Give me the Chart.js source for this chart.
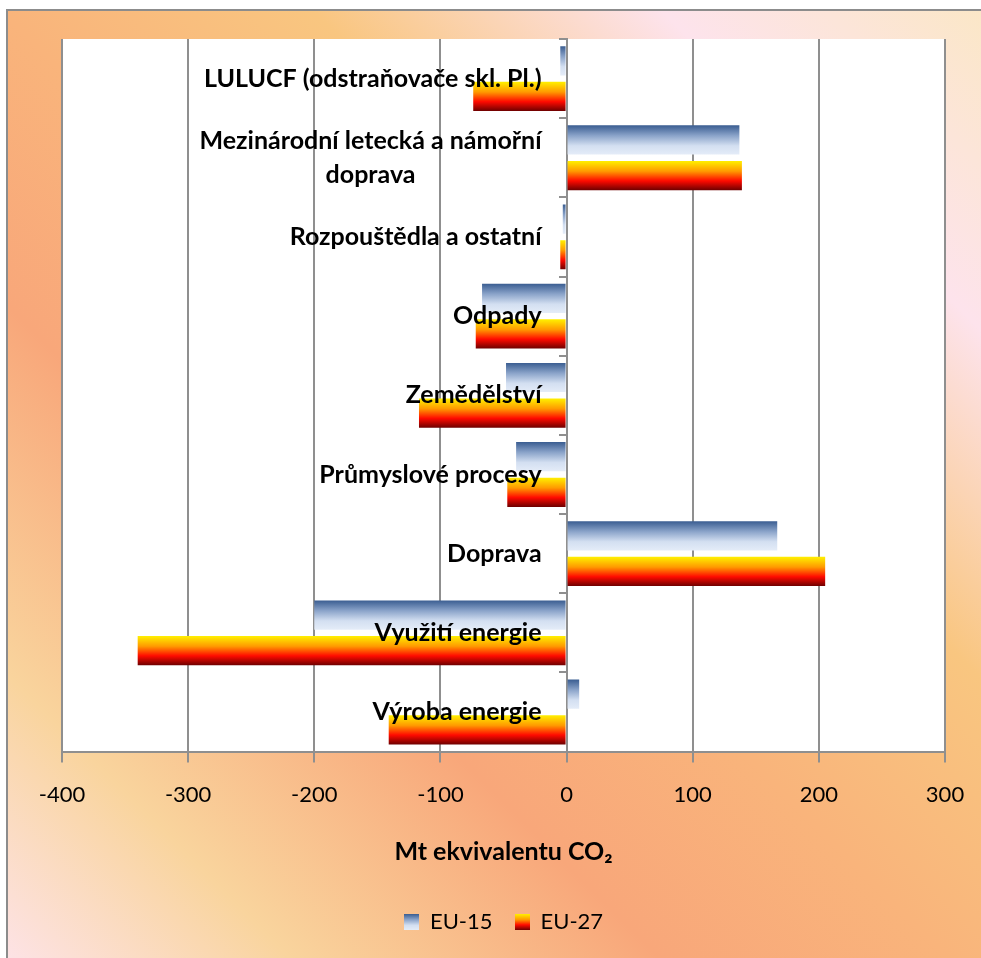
<!DOCTYPE html>
<html>
<head>
<meta charset="utf-8">
<script src="https://cdn.jsdelivr.net/npm/chart.js@4/dist/chart.umd.min.js"></script>
<style>
  html, body { margin: 0; padding: 0; background: #ffffff; overflow: hidden; }
  #wrap { position: absolute; left: 0; top: 0; width: 981px; height: 958px; }
</style>
</head>
<body>
<div id="wrap"><canvas id="chart"></canvas></div>
<script>
// Greenhouse gas emission changes by sector (Mt CO2 equivalent)
const categories = [
  'LULUCF (odstraňovače skl. Pl.)',
  ['Mezinárodní letecká a námořní', 'doprava'],
  'Rozpouštědla a ostatní',
  'Odpady',
  'Zemědělství',
  'Průmyslové procesy',
  'Doprava',
  'Využití energie',
  'Výroba energie'
];
const seriesNames = ['EU-15', 'EU-27'];
const eu15 = [-5, 137, -3, -67, -48, -40, 167, -200, 10];
const eu27 = [-74, 139, -5, -72, -117, -47, 205, -340, -141];
const xTicks = [-400, -300, -200, -100, 0, 100, 200, 300];
const axisTitle = 'Mt ekvivalentu CO₂';

const FONT = "Lato, 'Open Sans', sans-serif";
const GRID = '#8f8f8f';

// vertical gradient stops for each series
const stops = [
  [[0, '#3a5d91'], [0.35, '#8aa3c9'], [0.7, '#d3dff1'], [1, '#e4ecf8']],
  [[0, '#fff000'], [0.35, '#ff9a00'], [0.68, '#ff0a00'], [1, '#6e0000']]
];

function fillGradient(ctx, top, bottom, s) {
  const g = ctx.createLinearGradient(0, top, 0, bottom);
  s.forEach(([o, c]) => g.addColorStop(o, c));
  return g;
}

// small swatches used as legend markers
function swatch(s) {
  const c = document.createElement('canvas');
  c.width = 15; c.height = 16;
  const x = c.getContext('2d');
  x.fillStyle = fillGradient(x, 0, 16, s);
  x.fillRect(0, 0, 15, 16);
  return c;
}
const swatches = stops.map(swatch);

// page background with diagonal gradient and frame
const backdrop = {
  id: 'backdrop',
  beforeDraw(chart) {
    const ctx = chart.ctx;
    const w = chart.width, h = chart.height;
    ctx.save();
    ctx.fillStyle = '#ffffff';
    ctx.fillRect(0, 0, w, h);
    const g = ctx.createLinearGradient(0, 958, 969.5, -11.5);
    g.addColorStop(0.00, '#fde3e7');
    g.addColorStop(0.15, '#f9d49d');
    g.addColorStop(0.34, '#f8a77a');
    g.addColorStop(0.49, '#f9b47b');
    g.addColorStop(0.65, '#f9c680');
    g.addColorStop(0.83, '#fde3ec');
    g.addColorStop(1.00, '#fbe7c6');
    ctx.fillStyle = g;
    ctx.fillRect(8, 11, w - 8, h - 11);
    ctx.fillStyle = '#8c8c8c';
    ctx.fillRect(6, 9, 2, h - 9);
    ctx.fillRect(6, 9, w - 6, 2);
    // white plot area
    const a = chart.chartArea;
    ctx.fillStyle = '#ffffff';
    ctx.fillRect(a.left, a.top, a.right - a.left, a.bottom - a.top);
    ctx.restore();
  }
};

// per-bar vertical gradients
const barShading = {
  id: 'barShading',
  beforeDatasetsDraw(chart) {
    const ctx = chart.ctx;
    chart.data.datasets.forEach((ds, di) => {
      const meta = chart.getDatasetMeta(di);
      meta.data.forEach(el => {
        const top = el.y - el.height / 2;
        const bottom = el.y + el.height / 2;
        el.options = Object.assign({}, el.options, {
          backgroundColor: fillGradient(ctx, top, bottom, stops[di])
        });
      });
    });
  }
};

// category names placed beside the zero axis, over the bars
const categoryNames = {
  id: 'categoryNames',
  afterDatasetsDraw(chart) {
    const ctx = chart.ctx;
    const xs = chart.scales.x, ys = chart.scales.y;
    const right = xs.getPixelForValue(0) - 25;
    const lh = 34;
    ctx.save();
    ctx.font = 'bold 25px ' + FONT;
    ctx.fillStyle = '#000000';
    ctx.textBaseline = 'middle';
    ctx.textAlign = 'center';
    categories.forEach((lab, i) => {
      const lines = Array.isArray(lab) ? lab : [lab];
      const widest = Math.max(...lines.map(t => ctx.measureText(t).width));
      const cx = right - widest / 2;
      const cy = ys.getPixelForValue(i);
      lines.forEach((t, k) => {
        ctx.fillText(t, cx, cy + (k - (lines.length - 1) / 2) * lh);
      });
    });
    ctx.restore();
  }
};

new Chart(document.getElementById('chart'), {
  type: 'bar',
  data: {
    labels: categories,
    datasets: [
      { label: seriesNames[0], data: eu15, backgroundColor: '#8aa3c9', borderWidth: 0 },
      { label: seriesNames[1], data: eu27, backgroundColor: '#ff5a00', borderWidth: 0 }
    ]
  },
  options: {
    indexAxis: 'y',
    responsive: true,
    maintainAspectRatio: false,
    animation: false,
    events: [],
    categoryPercentage: 0.9,
    barPercentage: 0.82,
    layout: { padding: { left: 62, right: 36, top: 39, bottom: 15 } },
    scales: {
      x: {
        min: xTicks[0],
        max: xTicks[xTicks.length - 1],
        afterBuildTicks(scale) { scale.ticks = xTicks.map(v => ({ value: v })); },
        afterFit(scale) { scale.paddingLeft = 0; scale.paddingRight = 0; },
        grid: { color: GRID, lineWidth: 2, tickLength: 11, drawTicks: true },
        border: { color: GRID, width: 2 },
        ticks: { color: '#000000', font: { family: FONT, size: 22 }, padding: 19 },
        title: {
          display: true, text: axisTitle, color: '#000000',
          font: { family: FONT, size: 25, weight: 'bold' },
          padding: { top: 10, bottom: 22 }
        }
      },
      y: {
        position: { x: 0 },
        grid: { offset: true, drawOnChartArea: false, color: GRID, lineWidth: 2, tickLength: 7 },
        border: { color: GRID, width: 2 },
        ticks: { display: false }
      }
    },
    plugins: {
      legend: {
        position: 'bottom',
        labels: {
          usePointStyle: true,
          pointStyleWidth: 15,
          color: '#000000',
          font: { family: FONT, size: 22 },
          padding: 22,
          generateLabels() {
            return seriesNames.map((n, i) => ({
              text: n, pointStyle: swatches[i], fillStyle: 'transparent',
              strokeStyle: 'transparent', lineWidth: 0, hidden: false, datasetIndex: i
            }));
          }
        }
      },
      tooltip: { enabled: false }
    }
  },
  plugins: [backdrop, barShading, categoryNames]
});
</script>
</body>
</html>
